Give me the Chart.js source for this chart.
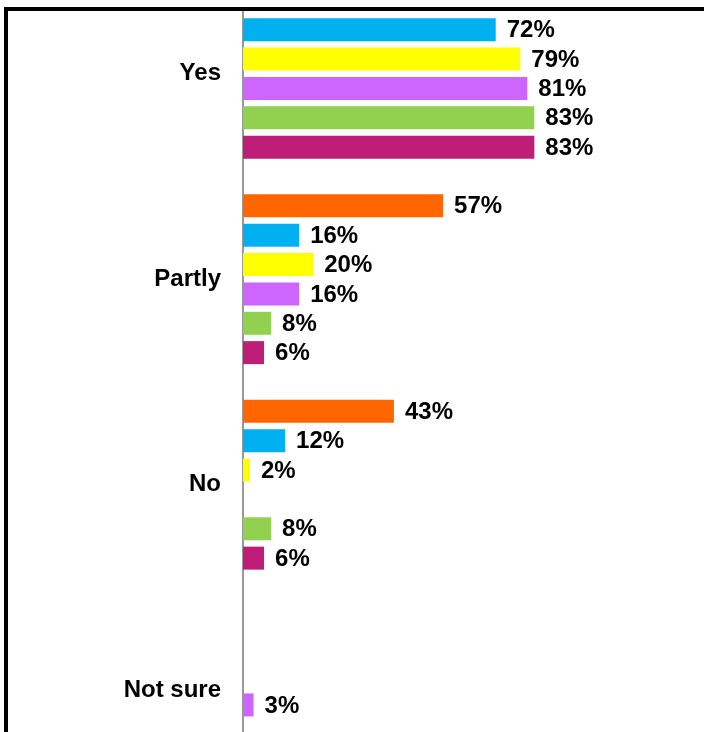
<!DOCTYPE html>
<html>
<head>
  <title>Survey answers</title>
  <script src="https://cdn.jsdelivr.net/npm/chart.js"></script>
  <style>
    html, body { margin: 0; padding: 0; background: #fff; overflow: hidden; }
    /* frame: only top and left edges show, the rest is cropped */
    #frame {
      position: absolute; left: 4px; top: 7px;
      width: 700px; height: 725px;
      border-top: 4px solid #000; border-left: 4px solid #000;
      overflow: hidden;
    }
    #chart { position: absolute; left: -8px; top: -51px; }
  </style>
</head>
<body>
  <div id="frame">
    <canvas id="chart" width="704" height="840"></canvas>
  </div>

  <script>
    // categories and series (values in %)
    const categories = ['Yes', 'Partly', 'No', 'Not sure'];
    const seriesNames = ['Series 1', 'Series 2', 'Series 3', 'Series 4', 'Series 5', 'Series 6'];
    const orangeVals  = [null, 57, 43, null];
    const blueVals    = [72, 16, 12, null];
    const yellowVals  = [79, 20, 2, null];
    const purpleVals  = [81, 16, null, 3];
    const greenVals   = [83, 8, 8, null];
    const magentaVals = [83, 6, 6, null];

    const allVals = [orangeVals, blueVals, yellowVals, purpleVals, greenVals, magentaVals];
    const colors = ['#FF6600', '#00B0F0', '#FFFF00', '#CC66FF', '#92D050', '#BE1E78'];

    const labelFont = 'bold 24px "Liberation Sans", Arial, sans-serif';

    // value labels at the end of each bar
    const valueLabels = {
      id: 'valueLabels',
      afterDatasetsDraw(chart) {
        const ctx = chart.ctx;
        ctx.save();
        ctx.font = labelFont;
        ctx.fillStyle = '#000';
        ctx.textAlign = 'left';
        ctx.textBaseline = 'middle';
        chart.data.datasets.forEach((ds, i) => {
          const meta = chart.getDatasetMeta(i);
          meta.data.forEach((bar, j) => {
            const v = ds.data[j];
            if (v === null || v === undefined) return;
            ctx.fillText(v + '%', bar.x + 11, bar.y + 1);
          });
        });
        ctx.restore();
      }
    };

    new Chart(document.getElementById('chart'), {
      type: 'bar',
      data: {
        labels: categories,
        datasets: allVals.map((vals, i) => ({
          label: seriesNames[i],
          data: vals,
          backgroundColor: colors[i],
          borderWidth: 0,
          categoryPercentage: 6 / 7,
          barPercentage: 0.783
        }))
      },
      options: {
        indexAxis: 'y',
        responsive: false,
        animation: false,
        layout: { padding: { top: 11, bottom: 7, left: 0, right: 110 } },
        plugins: {
          legend: { display: false },
          tooltip: { enabled: false }
        },
        scales: {
          x: {
            display: false,
            min: 0,
            max: 100
          },
          y: {
            afterFit(scale) {
              scale.width = 243;
              // keep the tick padding from adding space above/below the bars
              scale.paddingTop = 0;
              scale.paddingBottom = 0;
            },
            grid: { drawOnChartArea: false, drawTicks: false },
            border: { display: true, color: '#999999', width: 2 },
            ticks: {
              padding: 22,
              color: '#000',
              font: { family: '"Liberation Sans", Arial, sans-serif', size: 24, weight: 'bold' }
            }
          }
        }
      },
      plugins: [valueLabels]
    });
  </script>
</body>
</html>
